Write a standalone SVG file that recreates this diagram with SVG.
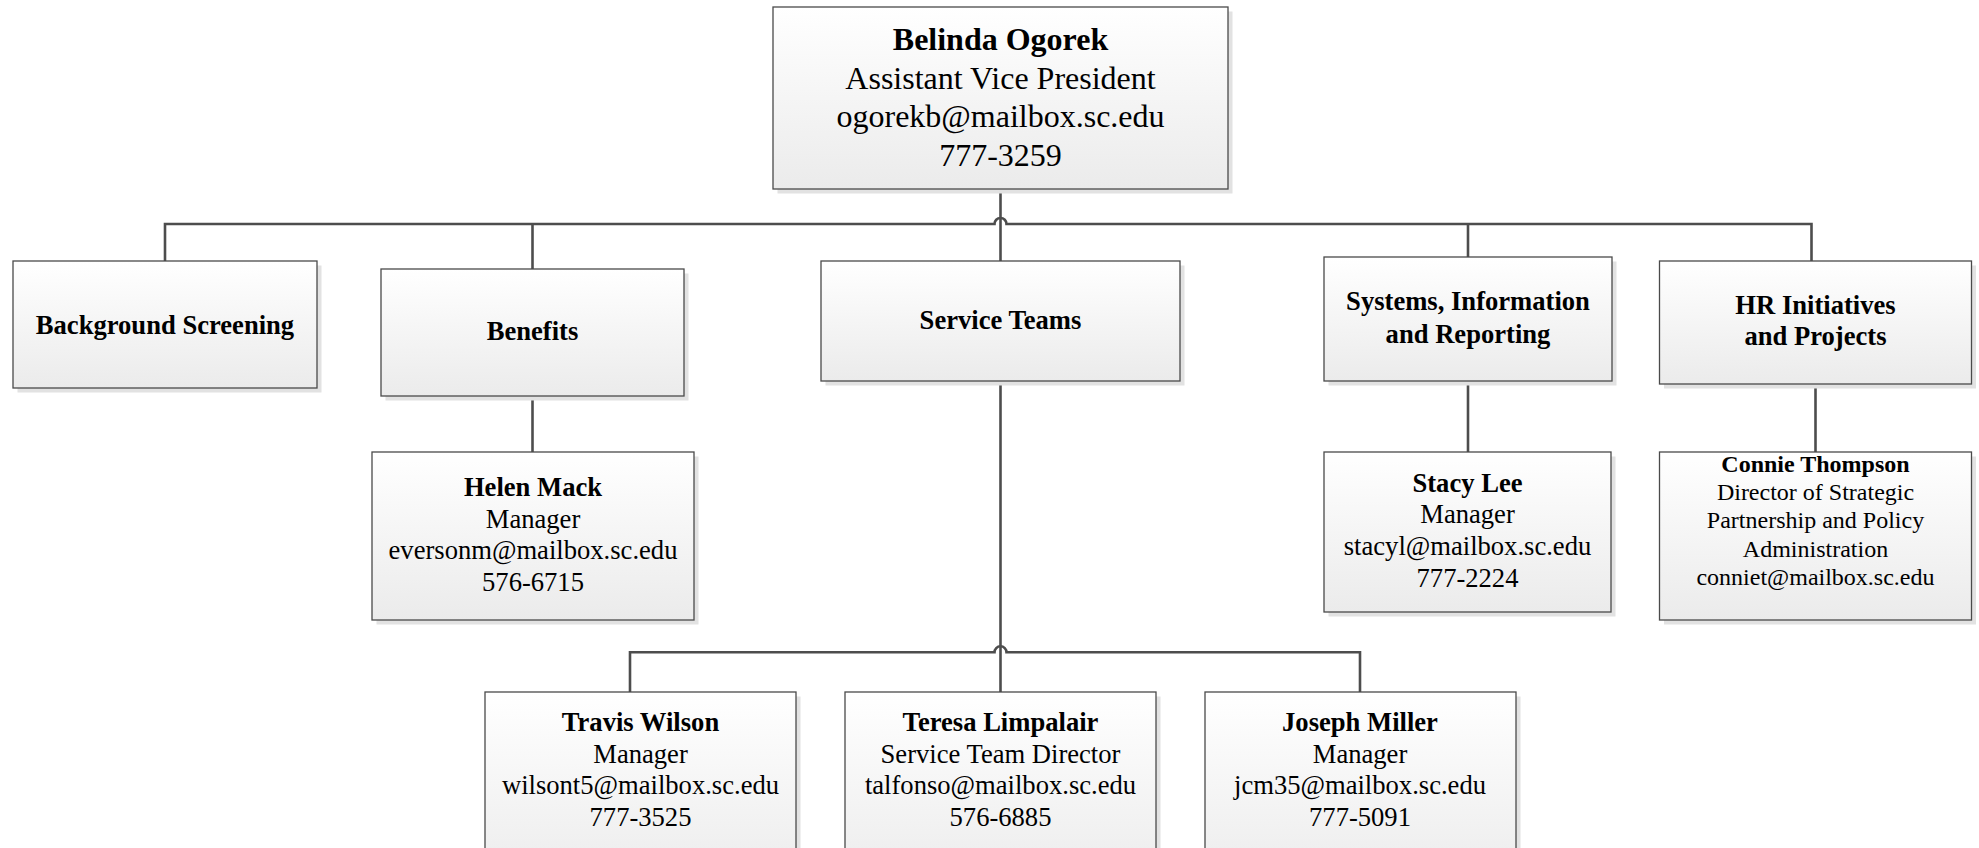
<svg xmlns="http://www.w3.org/2000/svg" width="1979" height="848" viewBox="0 0 1979 848">
<defs>
<linearGradient id="g" x1="0" y1="0" x2="0" y2="1">
<stop offset="0" stop-color="#ffffff"/>
<stop offset="1" stop-color="#ebebeb"/>
</linearGradient>
<style>
.sh{fill:#e2e2e2;}
.bx{fill:url(#g);stroke:#4a4a4a;stroke-width:1.3;}
.c{fill:none;stroke:#4d4d4d;stroke-width:2.6;}
text{font-family:"Liberation Serif","Times New Roman",serif;fill:#000;text-anchor:middle;}
.b{font-weight:bold;}
.t32{font-size:32px;}
.t26{font-size:26.6px;}
.t24{font-size:24px;}
</style>
</defs>
<rect width="1979" height="848" fill="#ffffff"/>

<g id="connectors">
<path class="c" d="M1000.5 189V261"/>
<path class="c" d="M165 261V224H994.5A6 6 0 0 1 1006.5 224H1811.5V261"/>
<path class="c" d="M532.5 224V269"/>
<path class="c" d="M1468 224V257"/>
<path class="c" d="M532.5 396V452"/>
<path class="c" d="M1468 381V452"/>
<path class="c" d="M1815.5 384V452"/>
<path class="c" d="M1000.5 381V692"/>
<path class="c" d="M630 692V652.3H994.5A6 6 0 0 1 1006.5 652.3H1360V692"/>
</g>

<g id="n-ogorek">
<rect class="sh" x="777.5" y="11.5" width="455" height="182"/>
<rect class="bx" x="773" y="7" width="455" height="182"/>
<text class="t32 b" x="1000.5" y="50">Belinda Ogorek</text>
<text class="t32" x="1000.5" y="88.5">Assistant Vice President</text>
<text class="t32" x="1000.5" y="126.5">ogorekb@mailbox.sc.edu</text>
<text class="t32" x="1000.5" y="165.5">777-3259</text>
</g>

<g id="n-background">
<rect class="sh" x="17.5" y="265.5" width="304" height="127"/>
<rect class="bx" x="13" y="261" width="304" height="127"/>
<text class="t26 b" x="165" y="334">Background Screening</text>
</g>

<g id="n-benefits">
<rect class="sh" x="385.5" y="273.5" width="303" height="127"/>
<rect class="bx" x="381" y="269" width="303" height="127"/>
<text class="t26 b" x="532.5" y="340">Benefits</text>
</g>

<g id="n-service">
<rect class="sh" x="825.5" y="265.5" width="359" height="120"/>
<rect class="bx" x="821" y="261" width="359" height="120"/>
<text class="t26 b" x="1000.5" y="328.5">Service Teams</text>
</g>

<g id="n-systems">
<rect class="sh" x="1328.5" y="261.5" width="288" height="124"/>
<rect class="bx" x="1324" y="257" width="288" height="124"/>
<text class="t26 b" x="1468" y="310">Systems, Information</text>
<text class="t26 b" x="1468" y="342.7">and Reporting</text>
</g>

<g id="n-hr">
<rect class="sh" x="1664" y="265.5" width="312" height="123"/>
<rect class="bx" x="1659.5" y="261" width="312" height="123"/>
<text class="t26 b" x="1815.5" y="314">HR Initiatives</text>
<text class="t26 b" x="1815.5" y="345">and Projects</text>
</g>

<g id="n-helen">
<rect class="sh" x="376.5" y="456.5" width="322" height="168"/>
<rect class="bx" x="372" y="452" width="322" height="168"/>
<text class="t26 b" x="533" y="496">Helen Mack</text>
<text class="t26" x="533" y="527.7">Manager</text>
<text class="t26" x="533" y="559.4">eversonm@mailbox.sc.edu</text>
<text class="t26" x="533" y="591">576-6715</text>
</g>

<g id="n-stacy">
<rect class="sh" x="1328.5" y="456.5" width="287" height="160"/>
<rect class="bx" x="1324" y="452" width="287" height="160"/>
<text class="t26 b" x="1467.5" y="491.5">Stacy Lee</text>
<text class="t26" x="1467.5" y="523.2">Manager</text>
<text class="t26" x="1467.5" y="554.9">stacyl@mailbox.sc.edu</text>
<text class="t26" x="1467.5" y="586.6">777-2224</text>
</g>

<g id="n-connie">
<rect class="sh" x="1664" y="456.5" width="312" height="168"/>
<rect class="bx" x="1659.5" y="452" width="312" height="168"/>
<text class="t24 b" x="1815.5" y="471.7">Connie Thompson</text>
<text class="t24" x="1815.5" y="500">Director of Strategic</text>
<text class="t24" x="1815.5" y="528.3">Partnership and Policy</text>
<text class="t24" x="1815.5" y="556.7">Administration</text>
<text class="t24" x="1815.5" y="585">conniet@mailbox.sc.edu</text>
</g>

<g id="n-travis">
<rect class="sh" x="489.5" y="696.5" width="311" height="200"/>
<rect class="bx" x="485" y="692" width="311" height="200"/>
<text class="t26 b" x="640.5" y="731">Travis Wilson</text>
<text class="t26" x="640.5" y="762.7">Manager</text>
<text class="t26" x="640.5" y="794.4">wilsont5@mailbox.sc.edu</text>
<text class="t26" x="640.5" y="826.1">777-3525</text>
</g>

<g id="n-teresa">
<rect class="sh" x="849.5" y="696.5" width="311" height="200"/>
<rect class="bx" x="845" y="692" width="311" height="200"/>
<text class="t26 b" x="1000.5" y="731">Teresa Limpalair</text>
<text class="t26" x="1000.5" y="762.7">Service Team Director</text>
<text class="t26" x="1000.5" y="794.4">talfonso@mailbox.sc.edu</text>
<text class="t26" x="1000.5" y="826.1">576-6885</text>
</g>

<g id="n-joseph">
<rect class="sh" x="1209.5" y="696.5" width="311" height="200"/>
<rect class="bx" x="1205" y="692" width="311" height="200"/>
<text class="t26 b" x="1360" y="731">Joseph Miller</text>
<text class="t26" x="1360" y="762.7">Manager</text>
<text class="t26" x="1360" y="794.4">jcm35@mailbox.sc.edu</text>
<text class="t26" x="1360" y="826.1">777-5091</text>
</g>
</svg>
